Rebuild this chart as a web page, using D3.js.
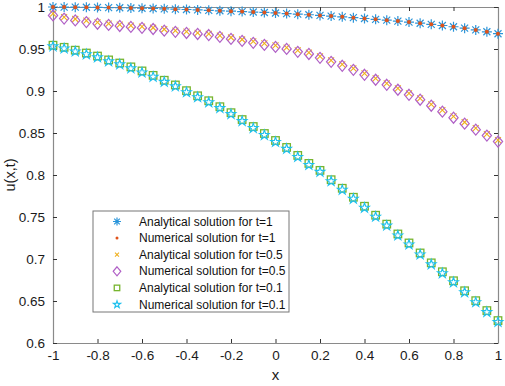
<!DOCTYPE html>
<html>
<head>
<meta charset="utf-8">
<script src="https://cdn.jsdelivr.net/npm/d3@7"></script>
<style>
  body { margin: 0; background: #fff; }
  svg { display: block; font-family: "Liberation Sans", Arial, sans-serif; }
</style>
</head>
<body>
<svg id="chart" width="505" height="386"></svg>
<script>
// x grid shared by all series
const xs = [-1, -0.95, -0.9, -0.85, -0.8, -0.75, -0.7, -0.65, -0.6, -0.55, -0.5,
  -0.45, -0.4, -0.35, -0.3, -0.25, -0.2, -0.15, -0.1, -0.05, 0,
  0.05, 0.1, 0.15, 0.2, 0.25, 0.3, 0.35, 0.4, 0.45, 0.5,
  0.55, 0.6, 0.65, 0.7, 0.75, 0.8, 0.85, 0.9, 0.95, 1];

const analyticT1 = [1.0000, 0.9999, 0.9998, 0.9997, 0.9995, 0.9993, 0.9991, 0.9988, 0.9985, 0.9982, 0.9978,
  0.9974, 0.9970, 0.9965, 0.9960, 0.9955, 0.9950, 0.9945, 0.9940, 0.9935, 0.9929,
  0.9922, 0.9915, 0.9908, 0.9900, 0.9892, 0.9883, 0.9873, 0.9863, 0.9853, 0.9843,
  0.9832, 0.9820, 0.9807, 0.9794, 0.9780, 0.9765, 0.9748, 0.9727, 0.9705, 0.9682];
const numericT1 = [1.0000, 0.9999, 0.9998, 0.9997, 0.9995, 0.9993, 0.9991, 0.9988, 0.9985, 0.9982, 0.9978,
  0.9974, 0.9970, 0.9965, 0.9960, 0.9955, 0.9950, 0.9945, 0.9940, 0.9935, 0.9929,
  0.9922, 0.9915, 0.9908, 0.9900, 0.9892, 0.9883, 0.9873, 0.9863, 0.9853, 0.9843,
  0.9832, 0.9820, 0.9807, 0.9794, 0.9780, 0.9765, 0.9748, 0.9727, 0.9705, 0.9682];

const analyticT05 = [0.9920, 0.9880, 0.9857, 0.9837, 0.9818, 0.9803, 0.9790, 0.9778, 0.9766, 0.9753, 0.9735,
  0.9720, 0.9706, 0.9693, 0.9680, 0.9660, 0.9637, 0.9613, 0.9590, 0.9566, 0.9542,
  0.9517, 0.9483, 0.9458, 0.9412, 0.9364, 0.9317, 0.9269, 0.9210, 0.9151, 0.9091,
  0.9032, 0.8972, 0.8913, 0.8842, 0.8771, 0.8699, 0.8628, 0.8557, 0.8486, 0.8415];
const numericT05 = [0.9900, 0.9862, 0.9840, 0.9820, 0.9801, 0.9787, 0.9774, 0.9763, 0.9751, 0.9738, 0.9718,
  0.9704, 0.9691, 0.9679, 0.9666, 0.9644, 0.9620, 0.9596, 0.9573, 0.9549, 0.9525,
  0.9501, 0.9466, 0.9441, 0.9395, 0.9347, 0.9300, 0.9252, 0.9193, 0.9134, 0.9074,
  0.9015, 0.8955, 0.8896, 0.8825, 0.8754, 0.8682, 0.8611, 0.8540, 0.8469, 0.8398];

const analyticT01 = [0.9545, 0.9520, 0.9486, 0.9452, 0.9416, 0.9370, 0.9333, 0.9287, 0.9239, 0.9186, 0.9128,
  0.9072, 0.9004, 0.8943, 0.8884, 0.8813, 0.8742, 0.8660, 0.8577, 0.8494, 0.8411,
  0.8328, 0.8233, 0.8138, 0.8055, 0.7944, 0.7842, 0.7735, 0.7628, 0.7521, 0.7415,
  0.7298, 0.7191, 0.7072, 0.6954, 0.6848, 0.6741, 0.6622, 0.6504, 0.6386, 0.6267];
const numericT01 = [0.9530, 0.9505, 0.9470, 0.9436, 0.9400, 0.9352, 0.9316, 0.9268, 0.9220, 0.9168, 0.9108,
  0.9054, 0.8985, 0.8925, 0.8865, 0.8795, 0.8724, 0.8641, 0.8558, 0.8475, 0.8392,
  0.8310, 0.8214, 0.8119, 0.8036, 0.7925, 0.7823, 0.7716, 0.7609, 0.7502, 0.7396,
  0.7279, 0.7172, 0.7053, 0.6935, 0.6829, 0.6722, 0.6603, 0.6485, 0.6367, 0.6249];

const xTicks = [-1, -0.8, -0.6, -0.4, -0.2, 0, 0.2, 0.4, 0.6, 0.8, 1];
const yTicks = [0.6, 0.65, 0.7, 0.75, 0.8, 0.85, 0.9, 0.95, 1];

const legendLabels = [
  'Analytical solution for t=1',
  'Numerical solution for t=1',
  'Analytical solution for t=0.5',
  'Numerical solution for t=0.5',
  'Analytical solution for t=0.1',
  'Numerical solution for t=0.1',
];

const margin = { top: 7, right: 7, bottom: 43, left: 53 };
const width = 505, height = 386;
const svg = d3.select('#chart');

const x = d3.scaleLinear().domain([-1, 1]).range([margin.left, width - margin.right]);
const y = d3.scaleLinear().domain([0.6, 1]).range([height - margin.bottom, margin.top]);

const axisColor = '#8a8a8a';
const fmt = (d) => String(d);

// axes with inward ticks, box on all sides
function styleAxis(g) {
  g.select('.domain').attr('stroke', axisColor).attr('stroke-width', 1.2);
  g.selectAll('.tick line').attr('stroke', '#333').attr('stroke-width', 1);
  g.selectAll('.tick text').attr('fill', '#1a1a1a').style('font-size', '13.5px');
}

svg.append('g')
  .attr('transform', `translate(0,${height - margin.bottom})`)
  .call(d3.axisBottom(x).tickValues(xTicks).tickFormat(fmt).tickSizeInner(-4).tickSizeOuter(0).tickPadding(7))
  .call(styleAxis);
svg.append('g')
  .attr('transform', `translate(0,${margin.top})`)
  .call(d3.axisTop(x).tickValues(xTicks).tickFormat('').tickSizeInner(-4).tickSizeOuter(0))
  .call(styleAxis);
svg.append('g')
  .attr('transform', `translate(${margin.left},0)`)
  .call(d3.axisLeft(y).tickValues(yTicks).tickFormat(fmt).tickSizeInner(-4).tickSizeOuter(0).tickPadding(8))
  .call(styleAxis);
svg.append('g')
  .attr('transform', `translate(${width - margin.right},0)`)
  .call(d3.axisRight(y).tickValues(yTicks).tickFormat('').tickSizeInner(-4).tickSizeOuter(0))
  .call(styleAxis);

svg.append('text')
  .attr('x', (x(-1) + x(1)) / 2)
  .attr('y', 380)
  .attr('text-anchor', 'middle')
  .style('font-size', '15px')
  .attr('fill', '#1a1a1a')
  .text('x');
svg.append('text')
  .attr('transform', `translate(15,${(y(0.6) + y(1)) / 2}) rotate(-90)`)
  .attr('text-anchor', 'middle')
  .style('font-size', '14.5px')
  .attr('fill', '#1a1a1a')
  .text('u(x,t)');

// marker painters
const markers = {
  asterisk: (g, c, s) => {
    const r = s / 2;
    g.append('path')
      .attr('d', `M${-r},0H${r}M0,${-r}V${r}M${-r * 0.7},${-r * 0.7}L${r * 0.7},${r * 0.7}M${-r * 0.7},${r * 0.7}L${r * 0.7},${-r * 0.7}`)
      .attr('stroke', c).attr('stroke-width', 1.2).attr('fill', 'none');
  },
  dot: (g, c, s) => {
    g.append('circle').attr('r', s / 2).attr('fill', c);
  },
  cross: (g, c, s) => {
    const r = s / 2;
    g.append('path')
      .attr('d', `M${-r},${-r}L${r},${r}M${-r},${r}L${r},${-r}`)
      .attr('stroke', c).attr('stroke-width', 1.1).attr('fill', 'none');
  },
  diamond: (g, c, s) => {
    const w = s * 0.42, h = s / 2;
    g.append('path')
      .attr('d', `M0,${-h}L${w},0L0,${h}L${-w},0Z`)
      .attr('stroke', c).attr('stroke-width', 1.2).attr('fill', 'none');
  },
  square: (g, c, s) => {
    g.append('rect').attr('x', -s / 2).attr('y', -s / 2).attr('width', s).attr('height', s)
      .attr('stroke', c).attr('stroke-width', 1.3).attr('fill', 'none');
  },
  star: (g, c, s) => {
    g.append('path')
      .attr('d', d3.symbol(d3.symbolStar, s * s * 0.45)())
      .attr('stroke', c).attr('stroke-width', 1.1).attr('fill', 'none');
  },
};

const series = [
  { values: analyticT1, shape: 'asterisk', color: '#2a95da', size: 10 },
  { values: numericT1, shape: 'dot', color: '#e0531a', size: 4 },
  { values: analyticT05, shape: 'cross', color: '#f0b020', size: 6 },
  { values: numericT05, shape: 'diamond', color: '#b060c6', size: 11 },
  { values: analyticT01, shape: 'square', color: '#77b52e', size: 7.5 },
  { values: numericT01, shape: 'star', color: '#1ec0ee', size: 8 },
];

series.forEach((s) => {
  svg.append('g')
    .selectAll('g')
    .data(xs.map((xv, i) => [xv, s.values[i]]))
    .join('g')
    .attr('transform', (d) => `translate(${x(d[0])},${y(d[1])})`)
    .each(function () { markers[s.shape](d3.select(this), s.color, s.size); });
});

// legend
const legend = svg.append('g').attr('transform', 'translate(93,211)');
legend.append('rect')
  .attr('width', 196).attr('height', 101)
  .attr('fill', '#fff').attr('stroke', '#777').attr('stroke-width', 1);
series.forEach((s, i) => {
  const row = legend.append('g').attr('transform', `translate(0,${10.5 + i * 16.6})`);
  const m = row.append('g').attr('transform', 'translate(24,0)');
  markers[s.shape](m, s.color, s.shape === 'diamond' ? 9 : s.shape === 'dot' ? 3 : s.size - 2);
  row.append('text')
    .attr('x', 46).attr('y', 4)
    .style('font-size', '12px')
    .attr('fill', '#111')
    .text(legendLabels[i]);
});
</script>
</body>
</html>
